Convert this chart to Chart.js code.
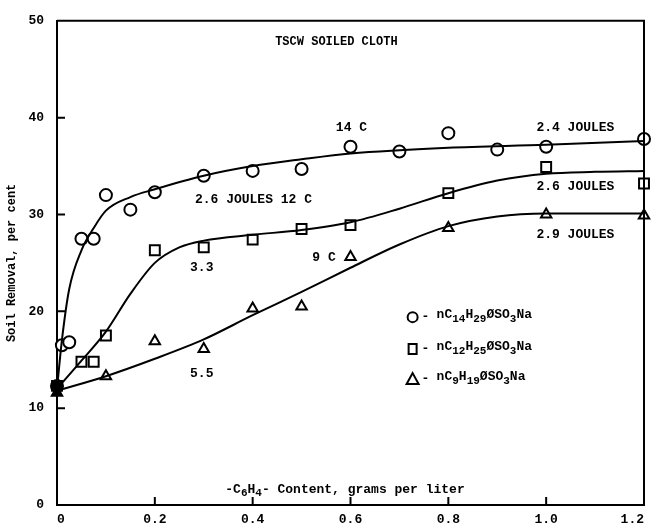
<!DOCTYPE html>
<html>
<head>
<meta charset="utf-8">
<script src="https://cdn.jsdelivr.net/npm/chart.js@4.4.1/dist/chart.umd.min.js"></script>
<style>
  html, body { margin: 0; padding: 0; background: #fff; }
  #wrap { width: 654px; height: 528px; }
</style>
</head>
<body>
<div id="wrap"><canvas id="myChart"></canvas></div>
<script>
// axis ticks
const xTicks = [0, 0.2, 0.4, 0.6, 0.8, 1.0, 1.2];
const xTickLabels = ['0', '0.2', '0.4', '0.6', '0.8', '1.0', '1.2'];
const yTicks = [0, 10, 20, 30, 40, 50];

// measured points, nC14H29 (circles)
const c14X = [0, 0.01, 0.025, 0.05, 0.075, 0.1, 0.15, 0.2, 0.3, 0.4, 0.5, 0.6, 0.7, 0.8, 0.9, 1.0, 1.2];
const c14Y = [12.3, 16.5, 16.8, 27.5, 27.5, 32.0, 30.5, 32.3, 34.0, 34.5, 34.7, 37.0, 36.5, 38.4, 36.7, 37.0, 37.8];
// nC12H25 (squares)
const c12X = [0, 0.05, 0.075, 0.1, 0.2, 0.3, 0.4, 0.5, 0.6, 0.8, 1.0, 1.2];
const c12Y = [12.3, 14.8, 14.8, 17.5, 26.3, 26.6, 27.4, 28.5, 28.9, 32.2, 34.9, 33.2];
// nC9H19 (triangles)
const c9X = [0, 0.1, 0.2, 0.3, 0.4, 0.5, 0.6, 0.8, 1.0, 1.2];
const c9Y = [11.6, 13.3, 16.9, 16.1, 20.3, 20.5, 25.6, 28.6, 30.0, 29.9];

// drawn smooth curves
const c14CurveX = [0, 0.01, 0.025, 0.05, 0.075, 0.1, 0.15, 0.2, 0.3, 0.4, 0.5, 0.6, 0.8, 1.0, 1.2];
const c14CurveY = [12, 17, 22.3, 26.3, 28.6, 30.4, 31.8, 32.6, 34.0, 35.0, 35.7, 36.3, 36.9, 37.2, 37.6];
const c12CurveX = [0, 0.05, 0.1, 0.15, 0.2, 0.25, 0.3, 0.4, 0.5, 0.6, 0.7, 0.8, 0.9, 1.0, 1.1, 1.2];
const c12CurveY = [12, 14.9, 17.9, 21.8, 25.0, 26.6, 27.3, 27.9, 28.4, 29.2, 30.6, 32.2, 33.5, 34.2, 34.4, 34.5];
const c9CurveX = [0, 0.1, 0.2, 0.3, 0.4, 0.5, 0.6, 0.7, 0.8, 0.9, 1.0, 1.2];
const c9CurveY = [11.8, 13.3, 15.1, 17.1, 19.6, 22.0, 24.5, 26.9, 28.8, 29.8, 30.1, 30.1];

const pts = (xs, ys) => xs.map((x, i) => ({ x: x, y: ys[i] }));
const zeroFill = (xs) => xs.map(x => (x === 0 ? '#000' : '#fff'));

const MONO = '"Liberation Mono", "DejaVu Sans Mono", monospace';

const curve = (xs, ys) => ({
  data: pts(xs, ys),
  showLine: true,
  borderColor: '#000',
  borderWidth: 2,
  pointRadius: 0,
  cubicInterpolationMode: 'monotone',
  fill: false,
  clip: false,
});

const marks = (xs, ys, style, r) => ({
  data: pts(xs, ys),
  showLine: false,
  pointStyle: style,
  pointRadius: r,
  pointBorderWidth: 2,
  pointBorderColor: '#000',
  pointBackgroundColor: zeroFill(xs),
  clip: false,
});

// text labels on the plot: [x, y, text, size]
const notes = [
  [0.446, 47.8, 'TSCW SOILED CLOTH', 12],
  [0.57, 39.0, '14 C', 13],
  [0.98, 39.0, '2.4 JOULES', 13],
  [0.282, 31.5, '2.6 JOULES 12 C', 13],
  [0.98, 32.9, '2.6 JOULES', 13],
  [0.98, 27.9, '2.9 JOULES', 13],
  [0.272, 24.5, '3.3', 13],
  [0.522, 25.5, '9 C', 13],
  [0.272, 13.6, '5.5', 13],
];

const legendRows = [
  ['circle', 19.4, [['nC'], ['14', 1], ['H'], ['29', 1], ['ØSO'], ['3', 1], ['Na']]],
  ['rect', 16.1, [['nC'], ['12', 1], ['H'], ['25', 1], ['ØSO'], ['3', 1], ['Na']]],
  ['triangle', 13.0, [['nC'], ['9', 1], ['H'], ['19', 1], ['ØSO'], ['3', 1], ['Na']]],
];

const xTitle = [['-C'], ['6', 1], ['H'], ['4', 1], ['- Content, grams per liter']];

function drawRich(ctx, segs, x, y, size) {
  ctx.textBaseline = 'middle';
  ctx.textAlign = 'left';
  for (const s of segs) {
    const sub = s[1] === 1;
    const fs = sub ? size - 2 : size;
    ctx.font = 'bold ' + fs + 'px ' + MONO;
    ctx.fillText(s[0], x, sub ? y + 4 : y);
    x += ctx.measureText(s[0]).width;
  }
}

function drawSymbol(ctx, style, x, y) {
  ctx.lineWidth = 2;
  ctx.strokeStyle = '#000';
  ctx.beginPath();
  if (style === 'circle') {
    ctx.arc(x, y, 5, 0, Math.PI * 2);
  } else if (style === 'rect') {
    ctx.rect(x - 4, y - 5, 8, 10);
  } else {
    ctx.moveTo(x, y - 6);
    ctx.lineTo(x + 6, y + 5);
    ctx.lineTo(x - 6, y + 5);
    ctx.closePath();
  }
  ctx.stroke();
}

const annotate = {
  id: 'annotate',
  afterDatasetsDraw(chart) {
    const { ctx, chartArea: a, scales: { x, y } } = chart;
    ctx.save();
    ctx.fillStyle = '#000';
    ctx.strokeStyle = '#000';

    // frame: top and right edges
    ctx.lineWidth = 2;
    ctx.beginPath();
    ctx.moveTo(a.left, a.top);
    ctx.lineTo(a.right, a.top);
    ctx.lineTo(a.right, a.bottom);
    ctx.stroke();

    // inward ticks
    ctx.beginPath();
    for (const v of xTicks.slice(1, -1)) {
      const px = x.getPixelForValue(v);
      ctx.moveTo(px, a.bottom);
      ctx.lineTo(px, a.bottom - 8);
    }
    for (const v of yTicks.slice(1, -1)) {
      const py = y.getPixelForValue(v);
      ctx.moveTo(a.left, py);
      ctx.lineTo(a.left + 8, py);
    }
    ctx.stroke();

    // notes
    ctx.textBaseline = 'middle';
    ctx.textAlign = 'left';
    for (const n of notes) {
      ctx.font = 'bold ' + n[3] + 'px ' + MONO;
      ctx.fillText(n[2], x.getPixelForValue(n[0]), y.getPixelForValue(n[1]));
    }

    // legend block
    const lx = x.getPixelForValue(0.727);
    for (const r of legendRows) {
      const py = y.getPixelForValue(r[1]);
      drawSymbol(ctx, r[0], lx, py);
      ctx.font = 'bold 13px ' + MONO;
      ctx.fillText('-', lx + 9, py);
      drawRich(ctx, r[2], lx + 24, py - 2, 13);
    }

    // x axis title, drawn inside the plot
    drawRich(ctx, xTitle, x.getPixelForValue(0.344), y.getPixelForValue(1.6), 13);
    ctx.restore();
  },
};

const config = {
  type: 'scatter',
  data: {
    datasets: [
      curve(c14CurveX, c14CurveY),
      curve(c12CurveX, c12CurveY),
      curve(c9CurveX, c9CurveY),
      marks(c14X, c14Y, 'circle', 6),
      marks(c12X, c12Y, 'rect', 7),
      marks(c9X, c9Y, 'triangle', 6),
    ],
  },
  options: {
    responsive: true,
    maintainAspectRatio: false,
    animation: false,
    layout: { padding: { top: 15, right: 10, left: 0, bottom: 0 } },
    plugins: {
      legend: { display: false },
      tooltip: { enabled: false },
    },
    scales: {
      x: {
        type: 'linear',
        min: 0,
        max: 1.2,
        afterBuildTicks: (s) => { s.ticks = xTicks.map(v => ({ value: v })); },
        afterFit: (s) => { s.height = 23; s.paddingLeft = 0; s.paddingRight = 0; },
        ticks: {
          padding: 7,
          align: 'inner',
          color: '#000',
          font: { family: MONO, size: 13, weight: 'bold' },
          callback: (v) => xTickLabels[xTicks.indexOf(v)] ?? '',
        },
        grid: { drawOnChartArea: false, drawTicks: false },
        border: { display: true, color: '#000', width: 2 },
      },
      y: {
        min: 0,
        max: 50,
        afterBuildTicks: (s) => { s.ticks = yTicks.map(v => ({ value: v })); },
        afterFit: (s) => { s.width = 57; },
        ticks: {
          padding: 13,
          color: '#000',
          font: { family: MONO, size: 13, weight: 'bold' },
        },
        grid: { drawOnChartArea: false, drawTicks: false },
        border: { display: true, color: '#000', width: 2 },
        title: {
          display: true,
          text: 'Soil Removal, per cent',
          color: '#000',
          font: { family: MONO, size: 12, weight: 'bold' },
          padding: { top: 5, bottom: 0 },
        },
      },
    },
  },
  plugins: [annotate],
};

const myChart = new Chart(document.getElementById('myChart'), config);
</script>
</body>
</html>
